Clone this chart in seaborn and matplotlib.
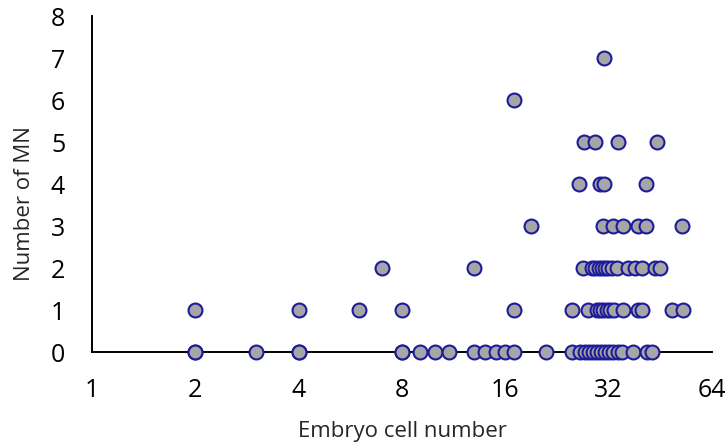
import matplotlib
matplotlib.use("Agg")
import matplotlib.pyplot as plt
import seaborn as sns
import pandas as pd
from matplotlib.ticker import FixedLocator, FixedFormatter, NullLocator

# Data (embryo cell number vs number of MN)
x_row0 = [2, 2, 3, 4, 4, 8, 8, 9, 10, 11, 13, 14, 15, 16, 17, 21, 25, 26.4, 27.3, 28,
          28.9, 29.6, 30.4, 31.2, 32.1, 33, 34.1, 35.1, 37.8, 41.3, 42.9]
x_row1 = [2, 4, 6, 8, 17, 25, 27.9, 29.5, 30.2, 30.9, 31.6, 32.3, 33.2, 35.3, 39, 40.1,
          48.8, 52.8]
x_row2 = [7, 13, 27, 28.6, 29.2, 29.9, 30.5, 31.2, 31.9, 32.7, 33.8, 36.5, 38.2, 39.9,
          43.7, 45.1]
x_row3 = [19, 30.8, 33, 35.3, 39, 41, 52.2]
x_row4 = [26.2, 30.2, 31, 41]
x_row5 = [27.1, 29.2, 34.1, 44.3]
x_row6 = [17]
x_row7 = [31]

xticks = [1, 2, 4, 8, 16, 32, 64]
xtick_labels = ["1", "2", "4", "8", "16", "32", "64"]
yticks = [0, 1, 2, 3, 4, 5, 6, 7, 8]

rows = [x_row0, x_row1, x_row2, x_row3, x_row4, x_row5, x_row6, x_row7]
xs, ys = [], []
for mn, row in enumerate(rows):
    xs.extend(row)
    ys.extend([mn] * len(row))
df = pd.DataFrame({"cells": xs, "mn": ys})

sns.set_style("white")
plt.rcParams["font.family"] = ["Open Sans", "DejaVu Sans"]

fig = plt.figure(figsize=(7.27, 4.44), dpi=100)
ax = fig.add_axes([92 / 727, 1 - 352 / 444, (712 - 92) / 727, (352 - 16) / 444])

sns.scatterplot(data=df, x="cells", y="mn", ax=ax, s=100, color="#a6a6a6",
                edgecolor="#1c1c9a", linewidth=1.5, clip_on=False, zorder=3)

ax.set_xscale("log", base=2)
ax.set_xlim(1, 64)
ax.set_ylim(0, 8)
ax.xaxis.set_major_locator(FixedLocator(xticks))
ax.xaxis.set_major_formatter(FixedFormatter(xtick_labels))
ax.xaxis.set_minor_locator(NullLocator())
ax.set_yticks(yticks)

for side in ["top", "right"]:
    ax.spines[side].set_visible(False)
for side in ["left", "bottom"]:
    ax.spines[side].set_color("black")
    ax.spines[side].set_linewidth(1.4)

ax.tick_params(axis="both", which="major", direction="out", length=5.8, width=1.4,
               color="black", labelsize=18, labelcolor="black")
ax.tick_params(axis="x", pad=13)
ax.tick_params(axis="y", pad=13.5)

ax.set_xlabel("Embryo cell number", fontsize=16)
ax.set_ylabel("Number of MN", fontsize=16)
ax.xaxis.set_label_coords(0.5, (352 - 431) / 336)
ax.xaxis.label.set_verticalalignment("center")
ax.yaxis.set_label_coords((24 - 92) / 620, (352 - 204) / 336)
ax.yaxis.label.set_verticalalignment("center")

fig.savefig("out.png", dpi=100)
